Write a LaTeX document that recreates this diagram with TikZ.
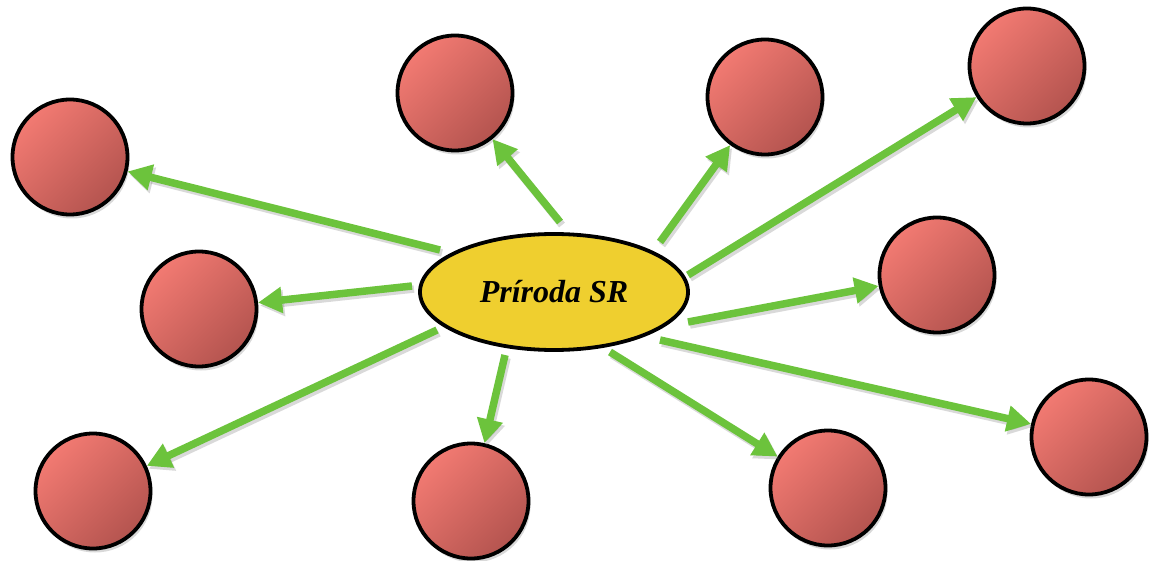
\documentclass[tikz,border=0pt]{standalone}
\usepackage{fontspec}
\setmainfont{Liberation Serif}
\usetikzlibrary{arrows.meta,shadows,shapes.geometric}
\definecolor{redlight}{HTML}{F27A72}
\definecolor{reddark}{HTML}{B4544F}
\definecolor{arrowgreen}{HTML}{6CC33C}
\definecolor{centeryellow}{HTML}{EFCF2F}
\tikzset{
  bubble/.style={circle, draw=black, line width=3.8pt, minimum size=115pt, inner sep=0pt,
    left color=redlight, right color=reddark, shading angle=45,
    drop shadow={opacity=0.3, shadow xshift=2pt, shadow yshift=-4pt}},
  hub/.style={ellipse, draw=black, line width=3.8pt, fill=centeryellow,
    minimum width=268pt, minimum height=116pt, inner sep=0pt,
    font=\bfseries\itshape\fontsize{32}{36}\selectfont},
  link/.style={draw=arrowgreen, line width=7.5pt, -{Triangle[length=24pt,width=25pt]}},
  linkshadow/.style={draw=black!60, opacity=0.25, line width=7.5pt, -{Triangle[length=24pt,width=25pt]}}
}
\begin{document}
\begin{tikzpicture}[x=1pt,y=-1pt]
\useasboundingbox (0,0) rectangle (1150,561);
% title fragments cut at the top (as in the reference)
\node[anchor=base, font=\bfseries\fontsize{30}{34}\selectfont, inner sep=0pt] (t1) at (9,-12) {p};
\node[anchor=base, font=\bfseries\fontsize{30}{34}\selectfont, inner sep=0pt] (t2) at (93,-12) {p};
% hub
\node[hub] (E) at (554,292) {Príroda SR};
% bubbles
\node[bubble] (c1) at (70,157) {};
\node[bubble] (c2) at (199,309) {};
\node[bubble] (c3) at (93,491) {};
\node[bubble] (c4) at (455,93) {};
\node[bubble] (c5) at (765,97) {};
\node[bubble] (c6) at (1027,66) {};
\node[bubble] (c7) at (937,275) {};
\node[bubble] (c8) at (1089,437) {};
\node[bubble] (c9) at (828,488) {};
\node[bubble] (c10) at (471,501) {};
% arrow starts
\coordinate (s1) at (440,250);
\coordinate (s2) at (412,286);
\coordinate (s3) at (437,330);
\coordinate (s4) at (560,222);
\coordinate (s5) at (660,242);
\coordinate (s6) at (688,275);
\coordinate (s7) at (688,322);
\coordinate (s8) at (660,340);
\coordinate (s9) at (610,352);
\coordinate (s10) at (505,355);
% shadows of arrows
\foreach \i in {1,...,10}{
  \draw[linkshadow, transform canvas={xshift=2pt,yshift=-3pt}] (s\i) -- (c\i);
}
% arrows
\foreach \i in {1,...,10}{
  \draw[link] (s\i) -- (c\i);
}
\end{tikzpicture}
\end{document}
